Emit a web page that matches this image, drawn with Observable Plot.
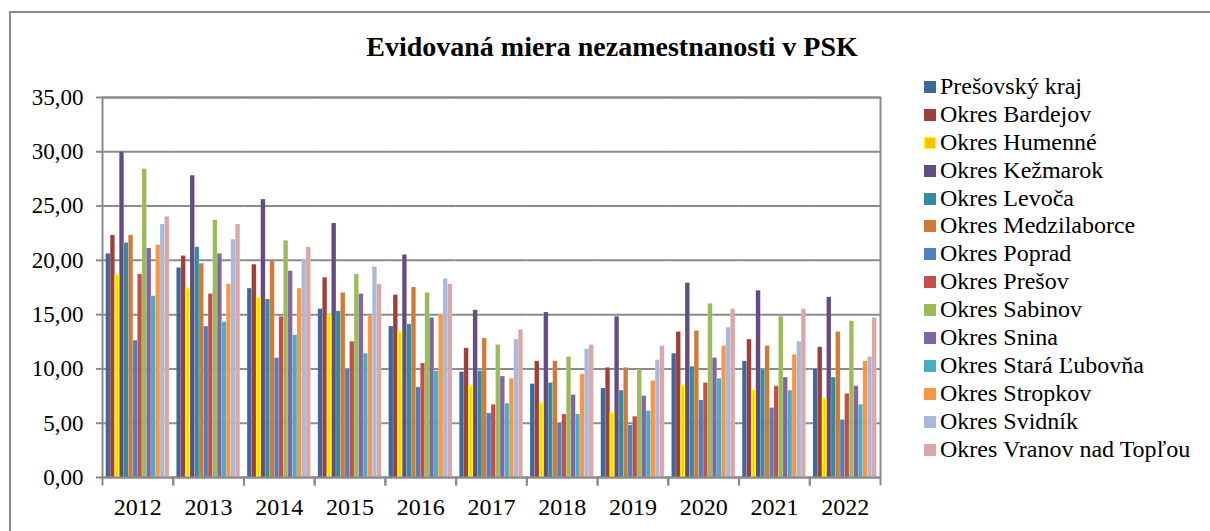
<!DOCTYPE html>
<html>
<head>
<meta charset="utf-8">
<script src="https://cdn.jsdelivr.net/npm/d3@7"></script>
<script src="https://cdn.jsdelivr.net/npm/@observablehq/plot@0.6"></script>
<style>
  html, body { margin: 0; padding: 0; background: #fff; }
  #wrap { position: relative; width: 1210px; height: 531px; overflow: hidden; font-family: "Liberation Serif", "Times New Roman", "DejaVu Serif", serif; }
  #border { position: absolute; left: 9px; top: 11px; width: 1300px; height: 600px; border-left: 2px solid #8a8a8a; border-top: 2px solid #8a8a8a; }
  #title { position: absolute; left: 0; top: 31px; width: 1224px; text-align: center; font-weight: bold; font-size: 28px; line-height: 32px; color: #000; }
  #chart { position: absolute; left: 0; top: 70px; }
  #chart svg text { font-family: "Liberation Serif", "Times New Roman", "DejaVu Serif", serif; }
  #legend { position: absolute; left: 924px; top: 73px; font-size: 24px; line-height: 27.9px; color: #000; }
  .row { display: flex; align-items: center; height: 27.9px; white-space: nowrap; }
  .sw { width: 12px; height: 12px; margin-right: 4px; box-sizing: border-box; flex: none; }
</style>
</head>
<body>
<div id="wrap">
  <div id="border"></div>
  <div id="title">Evidovaná miera nezamestnanosti v PSK</div>
  <div id="chart"></div>
  <div id="legend"></div>
</div>
<script>
const years = ["2012","2013","2014","2015","2016","2017","2018","2019","2020","2021","2022"];
const seriesNames = ["Prešovský kraj","Okres Bardejov","Okres Humenné","Okres Kežmarok","Okres Levoča","Okres Medzilaborce","Okres Poprad","Okres Prešov","Okres Sabinov","Okres Snina","Okres Stará Ľubovňa","Okres Stropkov","Okres Svidník","Okres Vranov nad Topľou"];
const seriesColors = ["#3E679B","#A03E3B","#FFC000","#634C82","#368A9E","#CF7A38","#4E80BC","#C1504D","#9BBB59","#8166A3","#4BACC6","#F79646","#A9BAD8","#DBA7A6"];

const presovskyKraj = [20.6, 19.3, 17.4, 15.5, 13.9, 9.7, 8.6, 8.2, 11.4, 10.7, 10.0];
const bardejov      = [22.3, 20.4, 19.6, 18.4, 16.8, 11.9, 10.7, 10.1, 13.4, 12.7, 12.0];
const humenne       = [18.6, 17.4, 16.5, 14.9, 13.4, 8.4, 6.8, 5.9, 8.4, 8.0, 7.2];
const kezmarok      = [30.0, 27.8, 25.6, 23.4, 20.5, 15.4, 15.2, 14.8, 17.9, 17.2, 16.6];
const levoca        = [21.6, 21.2, 16.4, 15.3, 14.1, 9.8, 8.7, 8.0, 10.2, 9.9, 9.2];
const medzilaborce  = [22.3, 19.7, 19.9, 17.0, 17.5, 12.8, 10.7, 10.1, 13.5, 12.1, 13.4];
const poprad        = [12.6, 13.9, 11.0, 10.0, 8.3, 5.9, 5.0, 4.8, 7.1, 6.4, 5.3];
const presov        = [18.7, 16.9, 14.8, 12.5, 10.5, 6.7, 5.8, 5.6, 8.7, 8.4, 7.7];
const sabinov       = [28.4, 23.7, 21.8, 18.7, 17.0, 12.2, 11.1, 9.9, 16.0, 14.8, 14.4];
const snina         = [21.1, 20.6, 19.0, 16.9, 14.7, 9.3, 7.6, 7.5, 11.0, 9.2, 8.4];
const staraLubovna  = [16.7, 14.3, 13.1, 11.4, 9.8, 6.8, 5.8, 6.1, 9.1, 8.0, 6.7];
const stropkov      = [21.4, 17.8, 17.4, 14.9, 15.0, 9.1, 9.5, 8.9, 12.1, 11.3, 10.7];
const svidnik       = [23.3, 21.9, 20.1, 19.4, 18.3, 12.7, 11.8, 10.8, 13.8, 12.5, 11.1];
const vranov        = [24.0, 23.3, 21.2, 17.8, 17.8, 13.6, 12.2, 12.1, 15.5, 15.5, 14.7];

const yTicks = [0, 5, 10, 15, 20, 25, 30, 35];

const seriesValues = [presovskyKraj, bardejov, humenne, kezmarok, levoca, medzilaborce, poprad, presov, sabinov, snina, staraLubovna, stropkov, svidnik, vranov];

const rows = [];
years.forEach((yr, i) => {
  seriesNames.forEach((s, j) => rows.push({year: yr, series: s, value: seriesValues[j][i]}));
});
const hum = rows.filter(d => d.series === "Okres Humenné");
const gray = "#8a8a8a";
const serif = "'Liberation Serif', 'Times New Roman', 'DejaVu Serif', serif";

const plot = Plot.plot({
  width: 1210,
  height: 461,
  marginLeft: 102,
  marginRight: 330,
  marginTop: 27,
  marginBottom: 54,
  style: {fontFamily: serif, fontSize: "23px", color: "#000", background: "transparent"},
  fx: {domain: years, padding: 0, round: false, label: null, axis: null},
  x: {domain: seriesNames, paddingInner: 0, paddingOuter: 0.8, round: false, axis: null},
  y: {domain: [0, 35], axis: null},
  color: {domain: seriesNames, range: seriesColors},
  marks: [
    Plot.ruleY(yTicks, {stroke: gray, strokeWidth: 2}),
    Plot.barY(rows, {fx: "year", x: "series", y: "value", fill: "series", stroke: "#ffffff", strokeOpacity: 0.25, strokeWidth: 0.6}),
    Plot.barY(hum, {fx: "year", x: "series", y: "value", fill: "#FFC800", stroke: "#FFFF00", strokeWidth: 1.5, insetLeft: 0.75, insetRight: 0.75}),
    Plot.frame({anchor: "left", insetTop: 380, insetBottom: -7, stroke: gray, strokeWidth: 2}),
    Plot.frame({anchor: "right", insetTop: 380, insetBottom: -7, stroke: gray, strokeWidth: 2}),
    Plot.frame({facet: "super", stroke: gray, strokeWidth: 2}),
    Plot.axisY({ticks: yTicks, tickFormat: d => d.toFixed(2).replace(".", ","), tickSize: 6, tickPadding: 13, stroke: gray, strokeWidth: 2, fill: "#000", fontSize: 23, label: null}),
    Plot.axisFx({anchor: "bottom", tickSize: 0, tickPadding: 20, fontSize: 24, fill: "#000", label: null})
  ]
});
document.getElementById("chart").appendChild(plot);

const legend = document.getElementById("legend");
seriesNames.forEach((s, i) => {
  const row = document.createElement("div");
  row.className = "row";
  const sw = document.createElement("span");
  sw.className = "sw";
  sw.style.background = seriesColors[i];
  if (s === "Okres Humenné") { sw.style.border = "1.5px solid #FFFF00"; }
  const tx = document.createElement("span");
  tx.textContent = s;
  row.appendChild(sw);
  row.appendChild(tx);
  legend.appendChild(row);
});
</script>
</body>
</html>
